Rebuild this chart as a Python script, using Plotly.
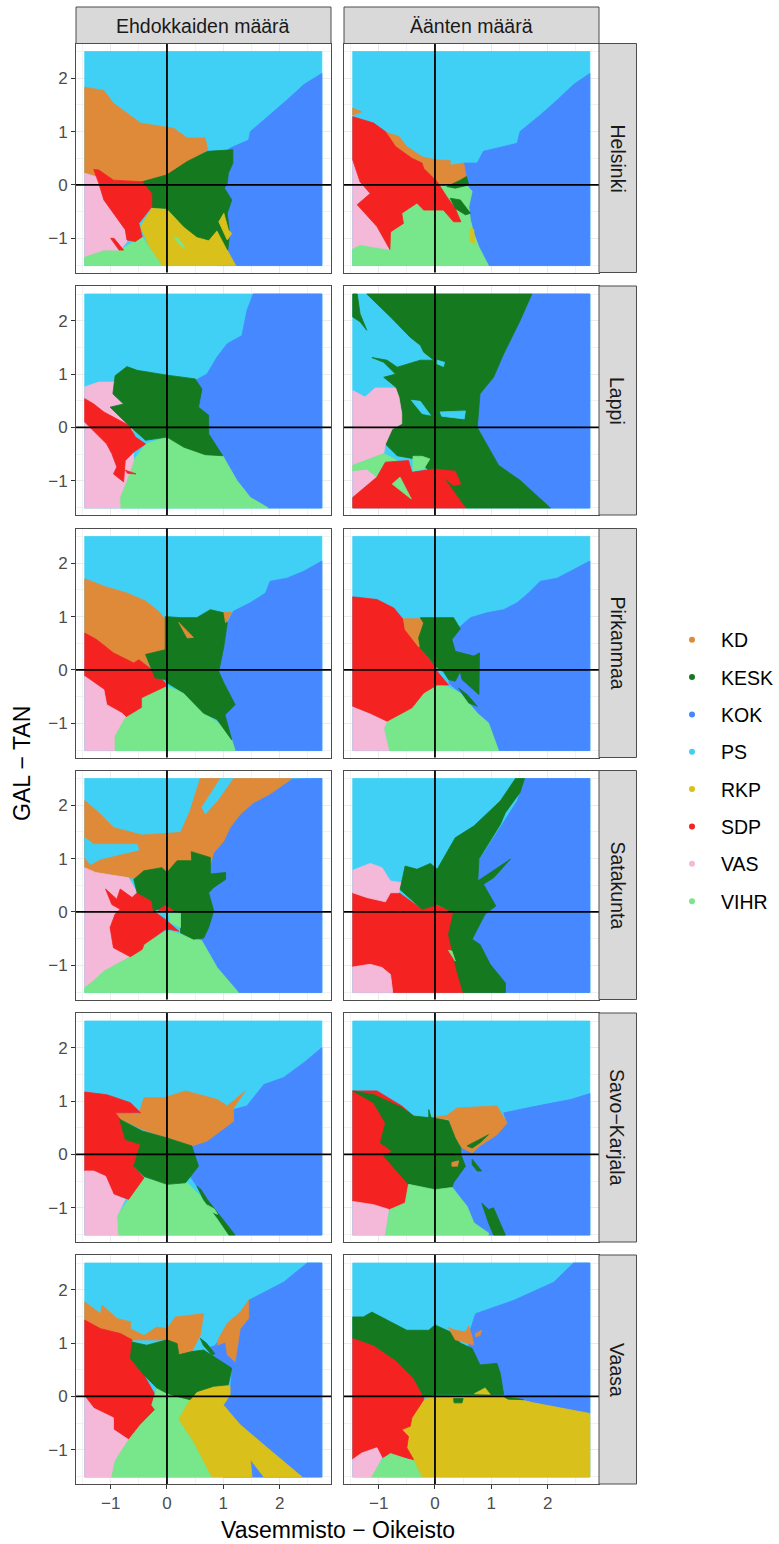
import plotly.graph_objects as go

PARTIES = ["KD", "KESK", "KOK", "PS", "RKP", "SDP", "VAS", "VIHR"]
COLOURS = ["#DE8A38", "#14791F", "#4688FF", "#40D0F5", "#D9C01A", "#F52222", "#F4B8D8", "#78E68A"]
COLUMNS = ["Ehdokkaiden määrä", "Äänten määrä"]
REGIONS = ["Helsinki", "Lappi", "Pirkanmaa", "Satakunta", "Savo−Karjala", "Vaasa"]
TICKS = [-1, 0, 1, 2]
TICK_TEXT = ["−1", "0", "1", "2"]
FULL = [(-1.46, 2.5), (2.75, 2.5), (2.75, -1.51), (-1.46, -1.51)]

HELSINKI_EHD = [
    ("PS", FULL),
    ("KOK", [(2.75,2.09),(2.43,1.88),(2.13,1.59),(1.83,1.31),(1.48,1.0),(1.45,.84),(1.12,.69),(.9,.5),(.9,-1.51),(2.75,-1.51)]),
    ("KD", [(-1.46,1.83),(-1.12,1.77),(-.95,1.53),(-.71,1.34),(-.47,1.16),(-.18,1.11),(.12,1.06),(.36,.88),(.68,.88),(.72,.66),(.36,.41),(0,.16),(-.12,0),(-.24,-.12),(-.27,-.1),(-.44,.06),(-.95,.09),(-1.46,.22)]),
    ("RKP", [(-.27,-.44),(0,-.44),(.3,-.78),(.53,-.97),(.74,-1.03),(.89,-.84),(1.07,-1.22),(1.22,-1.51),(-.09,-1.51),(-.3,-1.19),(-.47,-.78)]),
    ("VIHR", [(-1.46,-1.34),(-1.12,-1.22),(-.83,-1.22),(-.44,-.97),(-.3,-1.19),(-.09,-1.51),(-1.46,-1.51)]),
    ("VIHR", [(.12,-.97),(.2,-1.0),(.33,-1.19),(.25,-1.15)]),
    ("VAS", [(-1.46,.22),(-1.1,.1),(-1.12,-.28),(-.74,-.84),(-.71,-1.06),(-.83,-1.22),(-1.12,-1.22),(-1.46,-1.34)]),
    ("KESK", [(.72,.63),(1.17,.66),(1.17,.41),(1.09,.22),(1.07,.03),(1.02,-.06),(1.15,-.28),(1.07,-.53),(1.11,-.91),(1.08,-1.22),(.89,-.84),(.74,-1.03),(.53,-.97),(.3,-.78),(0,-.44),(-.27,-.42),(-.27,-.22),(-.44,.06),(0,.19),(.36,.44)]),
    ("RKP", [(.92,-.69),(1.01,-.53),(1.09,-.84),(1.15,-.91),(1.07,-1.03),(.99,-.84)]),
    ("SDP", [(-1.3,.29),(-1.21,.28),(-.95,.09),(-.44,.06),(-.27,-.16),(-.27,-.41),(-.5,-.72),(-.44,-.97),(-.56,-1.06),(-.71,-1.03),(-.74,-.84),(-1.12,-.28),(-1.21,.03)]),
    ("SDP", [(-1.0,-1.0),(-.94,-1.0),(-.77,-1.22),(-.85,-1.22)]),
]
HELSINKI_AAN = [
    ("PS", FULL),
    ("KOK", [(2.75,2.09),(2.46,1.88),(2.17,1.59),(1.87,1.31),(1.51,1.0),(1.46,.78),(.86,.63),(.75,.41),(.51,.41),(.56,0),(.66,-.12),(.6,-.41),(.63,-.66),(.69,-.91),(.78,-1.16),(.95,-1.51),(2.75,-1.51)]),
    ("VIHR", [(-1.46,-1.19),(-1.33,-1.12),(-.8,-1.21),(-.88,-.88),(-.56,-.72),(-.59,-.53),(-.32,-.34),(-.2,-.47),(.04,-.44),(.1,0),(.56,0),(.66,-.12),(.6,-.41),(.63,-.66),(.69,-.91),(.78,-1.16),(.95,-1.51),(-1.46,-1.51)]),
    ("VAS", [(-1.46,.47),(-1.33,.16),(-1.15,-.16),(-1.38,-.37),(-1.03,-.78),(-.91,-1.0),(-.8,-1.21),(-1.33,-1.12),(-1.46,-1.19)]),
    ("KD", [(-.91,1.0),(-.64,.91),(-.5,.72),(-.23,.53),(0,.47),(.27,.46),(.27,.37),(.51,.41),(.56,.13),(.36,.03),(.09,0),(-.2,.31),(-.23,.41),(-.41,.5),(-.7,.72)]),
    ("KD", [(-1.46,1.44),(-1.3,1.37),(-1.46,1.31)]),
    ("SDP", [(-1.46,1.28),(-1.09,1.16),(-.88,1.0),(-.7,.72),(-.41,.5),(-.23,.41),(-.2,.31),(.04,.06),(.21,-.22),(.36,-.44),(.46,-.69),(.33,-.69),(.15,-.47),(-.2,-.47),(-.32,-.34),(-.59,-.53),(-.56,-.72),(-.79,-.88),(-.8,-1.21),(-.91,-1.0),(-1.03,-.78),(-1.38,-.37),(-1.15,-.16),(-1.33,.06),(-1.46,.47)]),
    ("KESK", [(.45,.09),(.56,.16),(.6,0),(.36,-.06),(.21,-.03)]),
    ("KESK", [(.27,-.25),(.45,-.28),(.63,-.53),(.54,-.56),(.36,-.44)]),
    ("RKP", [(.63,-.81),(.69,-.84),(.7,-1.09),(.62,-1.06)]),
]
LAPPI_EHD = [
    ("PS", FULL),
    ("KOK", [(1.53,2.5),(1.42,2.19),(1.33,1.72),(1.07,1.57),(.89,1.32),(.71,1.0),(.5,.88),(.3,0),(.99,-.53),(1.24,-.99),(1.48,-1.31),(1.8,-1.51),(2.75,-1.51),(2.75,2.5)]),
    ("VIHR", [(-.83,-1.51),(-.84,-1.31),(-.74,-1.06),(-.59,-.62),(-.38,-.31),(0,-.18),(.99,-.53),(1.24,-.99),(1.48,-1.31),(1.8,-1.51)]),
    ("VAS", [(-1.46,.76),(-1.21,.85),(-.92,.85),(-.95,.6),(-.74,.41),(-.62,.04),(-.59,-.62),(-.74,-1.06),(-.84,-1.31),(-.83,-1.51),(-1.46,-1.51)]),
    ("SDP", [(-1.46,.54),(-1.3,.44),(-1.12,.29),(-.68,.04),(-.56,-.18),(-.38,-.31),(-.59,-.46),(-.74,-.62),(-.77,-1.02),(-.95,-.87),(-.89,-.74),(-.98,-.49),(-1.07,-.31),(-1.27,-.09),(-1.46,.1)]),
    ("SDP", [(-.74,-.8),(-.55,-.87),(-.7,-.86)]),
    ("KESK", [(-.71,1.14),(-.53,1.07),(0,.98),(.5,.91),(.62,.72),(.56,.38),(.74,.23),(.74,-.12),(.99,-.53),(.68,-.51),(.3,-.37),(0,-.18),(-.38,-.24),(-.68,.04),(-1.01,.38),(-.77,.44),(-.96,.63),(-.92,.97)]),
]
LAPPI_AAN = [
    ("PS", FULL),
    ("KOK", [(1.72,2.5),(1.51,2.0),(1.22,1.38),(1.04,.94),(.8,.63),(.75,0),(1.13,-.71),(1.51,-.99),(2.05,-1.51),(2.75,-1.51),(2.75,2.5)]),
    ("KESK", [(-1.21,2.5),(1.72,2.5),(1.51,2.0),(1.22,1.38),(1.04,.94),(.8,.63),(.75,0),(1.13,-.71),(1.51,-.99),(2.05,-1.51),(.54,-1.51),(-.3,-.6),(-.67,-.53),(-.88,-.31),(-.76,-.03),(-.59,.07),(-.59,.26),(-.64,.57),(-.7,.76),(-.91,.94),(-.7,1.0),(-.91,1.22),(-1.12,1.31),(-.85,1.26),(-.67,1.13),(-.26,1.26),(-.02,1.26),(-.2,1.41),(-.26,1.54),(-.44,1.69),(-.79,2.07)]),
    ("KESK", [(-1.46,2.5),(-1.38,2.5),(-1.33,2.13),(-1.21,1.82),(-1.33,1.98),(-1.46,2.07)]),
    ("VAS", [(-1.46,.69),(-1.24,.57),(-1.06,.74),(-.7,.74),(-.64,.57),(-.59,.26),(-.59,.07),(-.76,-.03),(-.88,-.31),(-.91,-.49),(-1.46,-.71),(-1.46,-.81),(-1.21,-.78),(-1.03,-.93),(-1.46,-1.31)]),
    ("VIHR", [(-1.46,-.71),(-.91,-.49),(-.67,-.62),(-.88,-.65),(-1.03,-.93),(-1.21,-.78),(-1.46,-.81)]),
    ("SDP", [(-1.46,-1.31),(-1.03,-.93),(-.88,-.65),(-.47,-.62),(-.41,-.84),(-.02,-.78),(.36,-.82),(.46,-1.06),(.33,-1.09),(.15,-.93),(.54,-1.51),(-1.46,-1.51)]),
    ("VIHR", [(-.39,-.54),(-.23,-.54),(-.09,-.59),(-.2,-.78),(-.39,-.81)]),
    ("VIHR", [(-.76,-1.06),(-.62,-.93),(-.42,-1.34)]),
    ("PS", [(-.42,.51),(-.26,.49),(-.08,.23),(-.23,.26)]),
    ("PS", [(.09,.29),(.54,.31),(.52,.16),(.12,.21)]),
    ("PS", [(.04,1.26),(.17,1.22),(.15,1.14),(.04,1.19)]),
]
PIRKANMAA_EHD = [
    ("PS", FULL),
    ("KOK", [(2.75,2.04),(2.43,1.85),(2.13,1.72),(1.83,1.66),(1.75,1.44),(1.48,1.26),(1.18,1.1),(1.07,.88),(1.01,.44),(.92,-.03),(1.21,-.65),(1.03,-.84),(1.15,-1.31),(1.21,-1.51),(2.75,-1.51)]),
    ("KD", [(-1.46,1.71),(-1.12,1.57),(-.71,1.44),(-.38,1.29),(-.15,1.1),(-.03,.94),(-.03,.38),(-.38,.26),(-.28,.04),(-.5,.19),(-.59,.13),(-.95,.32),(-1.25,.57),(-1.46,.69)]),
    ("SDP", [(-1.46,.69),(-1.25,.57),(-.95,.32),(-.59,.13),(-.5,.19),(-.27,.01),(-.03,-.24),(0,-.4),(-.44,-.53),(-.44,-.71),(-.71,-.9),(-.8,-.81),(-1.07,-.65),(-1.12,-.37),(-1.46,-.12)]),
    ("VAS", [(-1.46,-.12),(-1.12,-.37),(-1.07,-.65),(-.8,-.81),(-.71,-.9),(-.92,-1.24),(-.92,-1.51),(-1.46,-1.51)]),
    ("VIHR", [(-.92,-1.51),(-.92,-1.24),(-.74,-.9),(-.44,-.71),(-.44,-.53),(0,-.31),(.3,-.43),(.65,-.81),(1.01,-1.06),(1.15,-1.31),(1.21,-1.51)]),
    ("KESK", [(-.03,1.0),(.24,.98),(.53,.98),(.77,1.13),(1.01,1.07),(1.07,.88),(1.01,.44),(.92,-.03),(1.01,-.24),(1.21,-.65),(1.03,-.84),(1.15,-1.31),(.89,-.93),(.65,-.81),(.3,-.43),(0,-.24),(-.03,-.18),(-.21,-.15),(-.38,.29),(-.03,.38),(-.03,.94)]),
    ("KD", [(.21,.89),(.47,.61),(.36,.6)]),
    ("KD", [(1.01,1.08),(1.15,1.08),(1.04,.88)]),
]
PIRKANMAA_AAN = [
    ("PS", FULL),
    ("KOK", [(2.75,2.04),(2.46,1.88),(2.17,1.72),(1.87,1.66),(1.66,1.44),(1.46,1.26),(1.22,1.13),(.92,1.07),(.63,.98),(.42,.79),(.3,.57),(.25,.2),(.25,-.25),(.45,-.43),(.92,-.99),(1.13,-1.51),(2.75,-1.51)]),
    ("VIHR", [(-.82,-1.51),(-.91,-1.12),(-.85,-.96),(-.41,-.71),(-.2,-.43),(.04,-.28),(.21,-.31),(.45,-.43),(.75,-.81),(.95,-.99),(1.13,-1.51)]),
    ("VAS", [(-1.46,-.68),(-1.15,-.81),(-.85,-.96),(-.91,-1.09),(-.82,-1.51),(-1.46,-1.51)]),
    ("SDP", [(-1.46,1.37),(-1.03,1.32),(-.73,1.16),(-.56,.94),(-.53,.76),(-.26,.41),(0,.07),(.04,-.03),(.24,-.28),(.04,-.28),(-.2,-.43),(-.41,-.71),(-.85,-.96),(-1.15,-.81),(-1.46,-.68)]),
    ("KD", [(-.56,.96),(-.2,.96),(-.2,.63),(-.29,.43),(-.53,.76)]),
    ("KESK", [(-.26,.98),(.33,.98),(.45,.77),(.3,.57),(.36,.35),(.69,.26),(.79,.32),(.79,0),(.78,-.46),(.48,-.18),(.45,-.03),(.36,-.21),(.24,-.18),(.15,-.03),(0,.07),(-.08,.19),(-.26,.41),(-.29,.6),(-.2,.88)]),
    ("KESK", [(.42,-.34),(.57,-.46),(.75,-.68),(.6,-.62)]),
]
SATAKUNTA_EHD = [
    ("PS", FULL),
    ("KOK", [(2.22,2.49),(1.83,2.21),(1.54,2.05),(1.3,1.83),(1.12,1.58),(1.01,1.33),(.83,1.11),(.5,.5),(.4,-.5),(.62,-.64),(.89,-1.04),(1.27,-1.51),(2.75,-1.51),(2.75,2.5)]),
    ("KD", [(-1.46,2.09),(-1.18,1.83),(-.95,1.58),(-.44,1.44),(.24,1.49),(.41,1.89),(.59,2.5),(2.22,2.5),(1.83,2.21),(1.54,2.05),(1.3,1.83),(1.12,1.58),(1.01,1.33),(.83,1.11),(.77,.89),(.6,.7),(0,.6),(-.68,.64),(-1.27,.74),(-1.46,.83)]),
    ("PS", [(.95,2.5),(1.17,2.5),(.89,2.08),(.68,1.84),(.62,1.96)]),
    ("PS", [(-1.46,1.39),(-1.3,1.27),(-.53,1.27),(-.5,1.16),(-.95,1.05),(-1.18,.99),(-1.36,.89),(-1.46,1.02)]),
    ("VAS", [(-1.46,.83),(-1.27,.74),(-.68,.64),(-.56,.43),(-.5,.3),(-.92,-.04),(-1.01,-.29),(-.95,-.67),(-.65,-.84),(-1.12,-1.11),(-1.3,-1.29),(-1.46,-1.42)]),
    ("VIHR", [(-1.46,-1.51),(-1.46,-1.42),(-1.3,-1.29),(-1.12,-1.11),(-.65,-.84),(-.41,-.6),(-.03,-.36),(.06,-.36),(.62,-.54),(.89,-1.04),(1.27,-1.51)]),
    ("SDP", [(-1.09,.43),(-.89,.24),(-.83,.43),(-.62,.27),(-.53,.36),(-.27,.21),(-.24,.02),(-.03,-.14),(.21,-.36),(.06,-.33),(-.03,-.33),(-.41,-.61),(-.44,-.7),(-.65,-.84),(-.95,-.67),(-1.01,-.29),(-.92,-.04),(-.83,.05),(-.98,.14)]),
    ("KESK", [(-.59,.61),(-.41,.77),(-.09,.83),(0,.74),(.18,.96),(.44,.96),(.43,1.13),(.77,1.02),(.77,.71),(1.04,.74),(1.04,.61),(.83,.46),(.74,.36),(.83,.02),(.74,-.29),(.65,-.49),(.47,-.51),(.24,-.39),(.25,-.01),(.03,.02),(-.15,.05),(-.24,.02),(-.27,.21),(-.53,.36)]),
    ("VIHR", [(.03,-.03),(.24,-.03),(.24,-.29),(.06,-.2)]),
    ("SDP", [(-.15,.03),(-.03,.13),(.12,.02)]),
]
SATAKUNTA_AAN = [
    ("PS", FULL),
    ("KOK", [(1.59,2.49),(1.46,2.08),(.5,.5),(.5,-1.51),(2.75,-1.51),(2.75,2.5),(1.59,2.5)]),
    ("SDP", [(-1.46,.36),(-1.21,.27),(-.88,.19),(-.79,.36),(-.64,.36),(-.23,.05),(0,.14),(.33,-.01),(.24,-.42),(.5,-1.51),(-.75,-1.51),(-.79,-1.17),(-.94,-1.04),(-1.15,-.98),(-1.46,-1.03)]),
    ("VAS", [(-1.46,.78),(-1.15,.91),(-.94,.83),(-.79,.58),(-.59,.55),(-.64,.36),(-.79,.36),(-.88,.19),(-1.21,.27),(-1.46,.36)]),
    ("VAS", [(-1.46,-1.03),(-1.15,-.98),(-.94,-1.04),(-.79,-1.17),(-.75,-1.51),(-1.46,-1.51)]),
    ("KESK", [(1.43,2.5),(1.59,2.5),(1.51,2.24),(1.25,1.86),(1.16,1.64),(.78,.99),(.76,.58),(1.34,.99),(1.04,.64),(.86,.52),(1.08,.11),(.89,-.04),(.66,-.51),(.8,-.61),(.98,-.98),(1.25,-1.33),(1.25,-1.51),(.5,-1.51),(.39,-1.11),(.24,-.42),(.33,-.01),(.04,.14),(-.23,.05),(-.62,.42),(-.53,.86),(-.32,.8),(-.08,.91),(.04,.8),(.36,1.39),(.69,1.61),(1.16,2.08)]),
    ("VIHR", [(.24,-.72),(.3,-.73),(.36,-.92)]),
]
SAVO_EHD = [
    ("PS", FULL),
    ("KOK", [(2.75,2.0),(2.43,1.72),(2.07,1.44),(1.72,1.31),(1.42,.91),(1.18,.84),(1.18,.62),(.71,.25),(.44,.16),(.3,-.2),(.41,-.41),(.65,-.78),(1.21,-1.51),(2.75,-1.51)]),
    ("VIHR", [(-.87,-1.51),(-.89,-1.16),(-.68,-.84),(-.41,-.44),(0,-.53),(.36,-.53),(.65,-.84),(1.07,-1.47),(1.21,-1.51)]),
    ("KD", [(-.92,.78),(-.5,.75),(-.41,1.06),(-.06,1.06),(.33,1.19),(.89,1.03),(1.07,.91),(1.39,1.19),(1.18,.87),(1.18,.62),(.71,.25),(.44,.16),(.12,.28),(0,.31),(-.44,.47),(-.83,.66)]),
    ("SDP", [(-1.46,1.17),(-1.07,1.12),(-.65,.97),(-.47,.78),(-.92,.78),(-.83,.66),(-.74,.28),(-.47,.19),(-.59,-.22),(-.41,-.44),(-.68,-.84),(-.95,-.75),(-1.09,-.41),(-1.3,-.31),(-1.46,-.31)]),
    ("VAS", [(-1.46,-.31),(-1.3,-.31),(-1.09,-.41),(-.95,-.75),(-.74,-.84),(-.89,-1.16),(-.87,-1.51),(-1.46,-1.51)]),
    ("KESK", [(-.84,.66),(-.44,.44),(0,.31),(.44,.16),(.56,-.22),(.41,-.41),(.33,-.53),(0,-.56),(-.41,-.41),(-.59,-.22),(-.47,.19),(-.74,.28)]),
    ("KESK", [(.53,-.59),(.6,-.65),(.72,-.85),(.98,-1.2),(1.21,-1.51),(1.1,-1.51),(.9,-1.2),(.65,-.85)]),
    ("VIHR", [(.72,-.95),(.84,-1.02),(.9,-1.12),(.8,-1.08)]),
]
SAVO_AAN = [
    ("PS", FULL),
    ("KOK", [(2.75,1.14),(2.41,1.03),(1.87,.92),(1.4,.81),(1.22,.78),(1.28,.59),(.3,.1),(.3,-.6),(.33,-.62),(.57,-.97),(.69,-1.28),(.95,-1.51),(2.75,-1.51)]),
    ("KD", [(-.08,.69),(.21,.73),(.39,.87),(1.1,.91),(1.28,.59),(1.1,.37),(.8,.16),(.66,.03),(.48,.12),(.36,.31),(.24,.66)]),
    ("KESK", [(.57,.16),(.95,.37),(.8,.22),(.66,.12)]),
    ("SDP", [(-1.46,1.19),(-1.03,1.19),(-.59,.91),(-.38,.72),(-.6,.2),(-.47,-.59),(-.53,-.91),(-.79,-1.03),(-1.09,-.94),(-1.46,-.88)]),
    ("KESK", [(-1.46,1.19),(-1.09,1.12),(-.59,.88),(-.38,.72),(-.11,.69),(-.11,.84),(-.07,.69),(.24,.63),(.36,.31),(.46,.12),(.46,0),(.54,-.22),(.33,-.53),(.3,-.62),(0,-.66),(-.47,-.56),(-.91,-.03),(-.76,.06),(-.97,.22),(-.88,.59),(-1.09,.97)]),
    ("KESK", [(.66,-.09),(.83,-.31),(.75,-.31),(.66,-.19)]),
    ("KESK", [(.83,-.91),(.95,-1.03),(1.04,-1.0),(1.25,-1.51),(1.04,-1.51),(.95,-1.28)]),
    ("KD", [(.3,-.15),(.42,-.12),(.4,-.22),(.3,-.22)]),
    ("VAS", [(-1.46,-.88),(-1.09,-.94),(-.82,-1.03),(-.88,-1.51),(-1.46,-1.51)]),
    ("VIHR", [(-.88,-1.51),(-.8,-1.03),(-.53,-.91),(-.47,-.56),(0,-.66),(.3,-.62),(.57,-.97),(.69,-1.28),(.95,-1.47),(.95,-1.51)]),
]
VAASA_EHD = [
    ("PS", FULL),
    ("KOK", [(2.49,2.5),(2.07,2.14),(1.45,1.8),(1.39,1.49),(1.3,1.3),(.95,1.09),(.85,.95),(.7,.9),(.9,.6),(1.15,.47),(1.12,.03),(1.0,-.16),(.9,-.2),(1.0,-1.51),(2.75,-1.51),(2.75,2.5)]),
    ("KD", [(-1.46,1.77),(-1.18,1.55),(-1.15,1.71),(-.89,1.46),(-.65,1.4),(-.65,1.27),(-.41,1.14),(-.18,1.3),(0,1.27),(.15,1.49),(.65,1.55),(.59,1.15),(.44,.84),(.21,.78),(0,1.06),(-.62,1.06),(-.83,1.18),(-1.18,1.27),(-1.46,1.43)]),
    ("KD", [(.92,1.09),(1.07,1.37),(1.3,1.58),(1.45,1.8),(1.45,1.46),(1.3,1.27),(1.21,.65),(1.07,.78),(1.04,1.02),(.89,.96)]),
    ("SDP", [(-1.46,1.43),(-1.18,1.27),(-.83,1.18),(-.62,1.06),(-.65,.71),(-.41,.4),(-.21,.03),(-.27,-.16),(-.21,-.25),(-.47,-.53),(-.68,-.81),(-.95,-.62),(-.95,-.4),(-1.3,-.22),(-1.46,0)]),
    ("VAS", [(-1.46,0),(-1.3,-.22),(-.95,-.4),(-.95,-.62),(-.68,-.81),(-.92,-1.21),(-.98,-1.51),(-1.46,-1.51)]),
    ("VIHR", [(-.98,-1.51),(-.92,-1.21),(-.68,-.81),(-.47,-.53),(-.21,-.25),(-.27,-.16),(-.18,.16),(0,.06),(.47,-.03),(.21,-.43),(.47,-.84),(.8,-1.51)]),
    ("RKP", [(.53,.09),(.83,.19),(1.12,.19),(1.12,.03),(1.0,-.16),(1.3,-.53),(1.78,-.96),(2.4,-1.51),(1.72,-1.51),(1.48,-1.18),(1.51,-1.51),(.8,-1.51),(.47,-.84),(.21,-.43),(.41,-.06)]),
    ("KESK", [(-.62,1.02),(-.36,.96),(0,1.06),(.18,.99),(.21,.78),(.44,.84),(.65,.87),(.89,.71),(1.15,.53),(1.09,.22),(.83,.19),(.53,.09),(.41,-.06),(.18,0),(0,.06),(-.18,.16),(-.41,.4),(-.65,.71)]),
    ("KESK", [(.59,1.09),(.7,1.0),(.85,.8),(.8,.78),(.65,.95)]),
]
VAASA_AAN = [
    ("PS", FULL),
    ("KOK", [(2.46,2.5),(2.11,2.14),(1.4,1.8),(.72,1.55),(.6,1.15),(.6,.3),(.9,0),(1.22,.03),(1.75,-.12),(2.75,-.32),(2.75,2.5)]),
    ("RKP", [(2.75,-.32),(1.75,-.12),(1.22,.01),(0,0),(-.2,-.06),(-.41,-.4),(-.44,-.56),(-.59,-.62),(-.47,-.75),(-.5,-.96),(-.38,-1.18),(-.24,-1.51),(2.75,-1.51)]),
    ("SDP", [(-1.46,1.1),(-1.09,.96),(-.7,.68),(-.38,.34),(-.2,0),(-.2,-.06),(-.41,-.4),(-.44,-.56),(-.59,-.62),(-.47,-.75),(-.5,-.96),(-.38,-1.18),(-.67,-1.12),(-.79,-1.07),(-.94,-1.15),(-1.03,-.96),(-1.3,-1.06),(-1.46,-1.18)]),
    ("VAS", [(-1.46,-1.18),(-1.3,-1.06),(-1.03,-.96),(-.94,-1.15),(-1.12,-1.51),(-1.46,-1.51)]),
    ("VIHR", [(-1.12,-1.51),(-.94,-1.18),(-.79,-1.07),(-.38,-1.21),(-.24,-1.51)]),
    ("KESK", [(-1.46,1.49),(-1.27,1.49),(-1.12,1.58),(-.85,1.43),(-.5,1.24),(-.11,1.24),(0,1.34),(.27,1.21),(.45,1.0),(.66,.9),(.8,.59),(1.1,.62),(1.16,.43),(1.22,.03),(.69,.03),(0,.03),(-.2,0),(-.38,.34),(-.7,.68),(-1.09,.96),(-1.46,1.1)]),
    ("KESK", [(.33,-.04),(.5,-.04),(.48,-.12),(.34,-.12)]),
    ("KESK", [(1.22,0),(1.57,-.06),(1.3,-.05)]),
    ("RKP", [(.7,.05),(.89,.16),(.98,.04)]),
    ("KD", [(.24,1.29),(.36,1.24),(.54,1.21),(.6,1.32),(.66,1.12),(.69,.96),(.51,1.02),(.36,1.06)]),
    ("KD", [(.72,1.18),(.83,1.24),(.8,1.14),(.72,1.12)]),
]
PANELS = [
    [HELSINKI_EHD, HELSINKI_AAN],
    [LAPPI_EHD, LAPPI_AAN],
    [PIRKANMAA_EHD, PIRKANMAA_AAN],
    [SATAKUNTA_EHD, SATAKUNTA_AAN],
    [SAVO_EHD, SAVO_AAN],
    [VAASA_EHD, VAASA_AAN],
]

W, H = 779, 1544
COL_X = [(76, 331), (344, 599)]
ROW_Y = [(43.5, 272.5), (286, 515), (528.5, 757.5), (770.5, 999.5), (1013, 1242), (1255, 1484)]
XRANGE = [-1.615, 2.912]
YRANGE = [-1.64, 2.65]
FONT = "Liberation Sans"
colour_of = dict(zip(PARTIES, COLOURS))

fig = go.Figure()
shapes, annotations = [], []
px = lambda v: v / W
py = lambda v: 1 - v / H
STRIP = dict(type="rect", xref="paper", yref="paper", fillcolor="#D9D9D9", line=dict(color="#4D4D4D", width=1))
GRID = dict(showgrid=True, gridcolor="#EBEBEB", gridwidth=1, zeroline=False, showline=True, mirror=True,
            linecolor="#4D4D4D", linewidth=1, minor=dict(showgrid=True, gridcolor="#F2F2F2", gridwidth=0.6, tickvals=[-1.5, -.5, .5, 1.5, 2.5]))

n = 0
for r, row in enumerate(PANELS):
    for c, layers in enumerate(row):
        n += 1
        xa, ya = ("x", "y") if n == 1 else (f"x{n}", f"y{n}")
        outer_left, outer_bottom = c == 0, r == len(PANELS) - 1
        fig.layout[xa.replace("x", "xaxis")] = dict(
            GRID, domain=[px(COL_X[c][0]), px(COL_X[c][1])], range=XRANGE, anchor=ya,
            tickmode="array", tickvals=TICKS, ticktext=TICK_TEXT, showticklabels=outer_bottom,
            ticks="outside" if outer_bottom else "", ticklen=4, tickwidth=1.2, tickcolor="#333333",
            tickfont=dict(family=FONT, size=17, color="#4D4D4D"))
        fig.layout[ya.replace("y", "yaxis")] = dict(
            GRID, domain=[py(ROW_Y[r][1]), py(ROW_Y[r][0])], range=YRANGE, anchor=xa,
            tickmode="array", tickvals=TICKS, ticktext=TICK_TEXT, showticklabels=outer_left,
            ticks="outside" if outer_left else "", ticklen=4, tickwidth=1.2, tickcolor="#333333",
            tickfont=dict(family=FONT, size=17, color="#4D4D4D"))
        for party, pts in layers:
            xs = [p[0] for p in pts] + [pts[0][0]]
            ys = [p[1] for p in pts] + [pts[0][1]]
            fig.add_trace(go.Scatter(x=xs, y=ys, xaxis=xa, yaxis=ya, mode="lines", fill="toself",
                                     fillcolor=colour_of[party], line=dict(color=colour_of[party], width=0.8),
                                     showlegend=False, hoverinfo="skip"))
        shapes.append(dict(type="line", xref=xa, yref=f"{ya} domain", x0=0, x1=0, y0=0, y1=1,
                           line=dict(color="black", width=1.8)))
        shapes.append(dict(type="line", xref=f"{xa} domain", yref=ya, x0=0, x1=1, y0=0, y1=0,
                           line=dict(color="black", width=1.8)))

for c, name in enumerate(COLUMNS):
    shapes.append(dict(STRIP, x0=px(COL_X[c][0]), x1=px(COL_X[c][1]), y0=py(43.5), y1=py(7)))
    annotations.append(dict(text=name, xref="paper", yref="paper", x=px(sum(COL_X[c]) / 2), y=py(26),
                            showarrow=False, xanchor="center", yanchor="middle",
                            font=dict(family=FONT, size=19.5, color="#1A1A1A")))
for r, name in enumerate(REGIONS):
    shapes.append(dict(STRIP, x0=px(599), x1=px(636.5), y0=py(ROW_Y[r][1]), y1=py(ROW_Y[r][0])))
    annotations.append(dict(text=name, xref="paper", yref="paper", x=px(617.5), y=py(sum(ROW_Y[r]) / 2),
                            showarrow=False, textangle=90, xanchor="center", yanchor="middle",
                            font=dict(family=FONT, size=19.5, color="#1A1A1A")))
annotations.append(dict(text="Vasemmisto − Oikeisto", xref="paper", yref="paper", x=px(337.5), y=py(1530),
                        showarrow=False, xanchor="center", yanchor="middle",
                        font=dict(family=FONT, size=23, color="black")))
annotations.append(dict(text="GAL − TAN", xref="paper", yref="paper", x=px(22), y=py(764),
                        showarrow=False, textangle=-90, xanchor="center", yanchor="middle",
                        font=dict(family=FONT, size=23, color="black")))

for party in PARTIES:
    fig.add_trace(go.Scatter(x=[None], y=[None], mode="markers", name=party, legendgroup=party,
                             marker=dict(color=colour_of[party], size=6), showlegend=True))

fig.update_layout(
    width=W, height=H, autosize=False, margin=dict(l=0, r=0, t=0, b=0),
    paper_bgcolor="white", plot_bgcolor="white", shapes=shapes, annotations=annotations,
    legend=dict(x=px(663), y=py(620.5), xanchor="left", yanchor="top", tracegroupgap=9, itemwidth=48,
                font=dict(family=FONT, size=19.5, color="black"), bgcolor="rgba(0,0,0,0)"),
)
fig.write_html("out.html", config={"displayModeBar": False}, post_script="document.body.style.margin='0';")
